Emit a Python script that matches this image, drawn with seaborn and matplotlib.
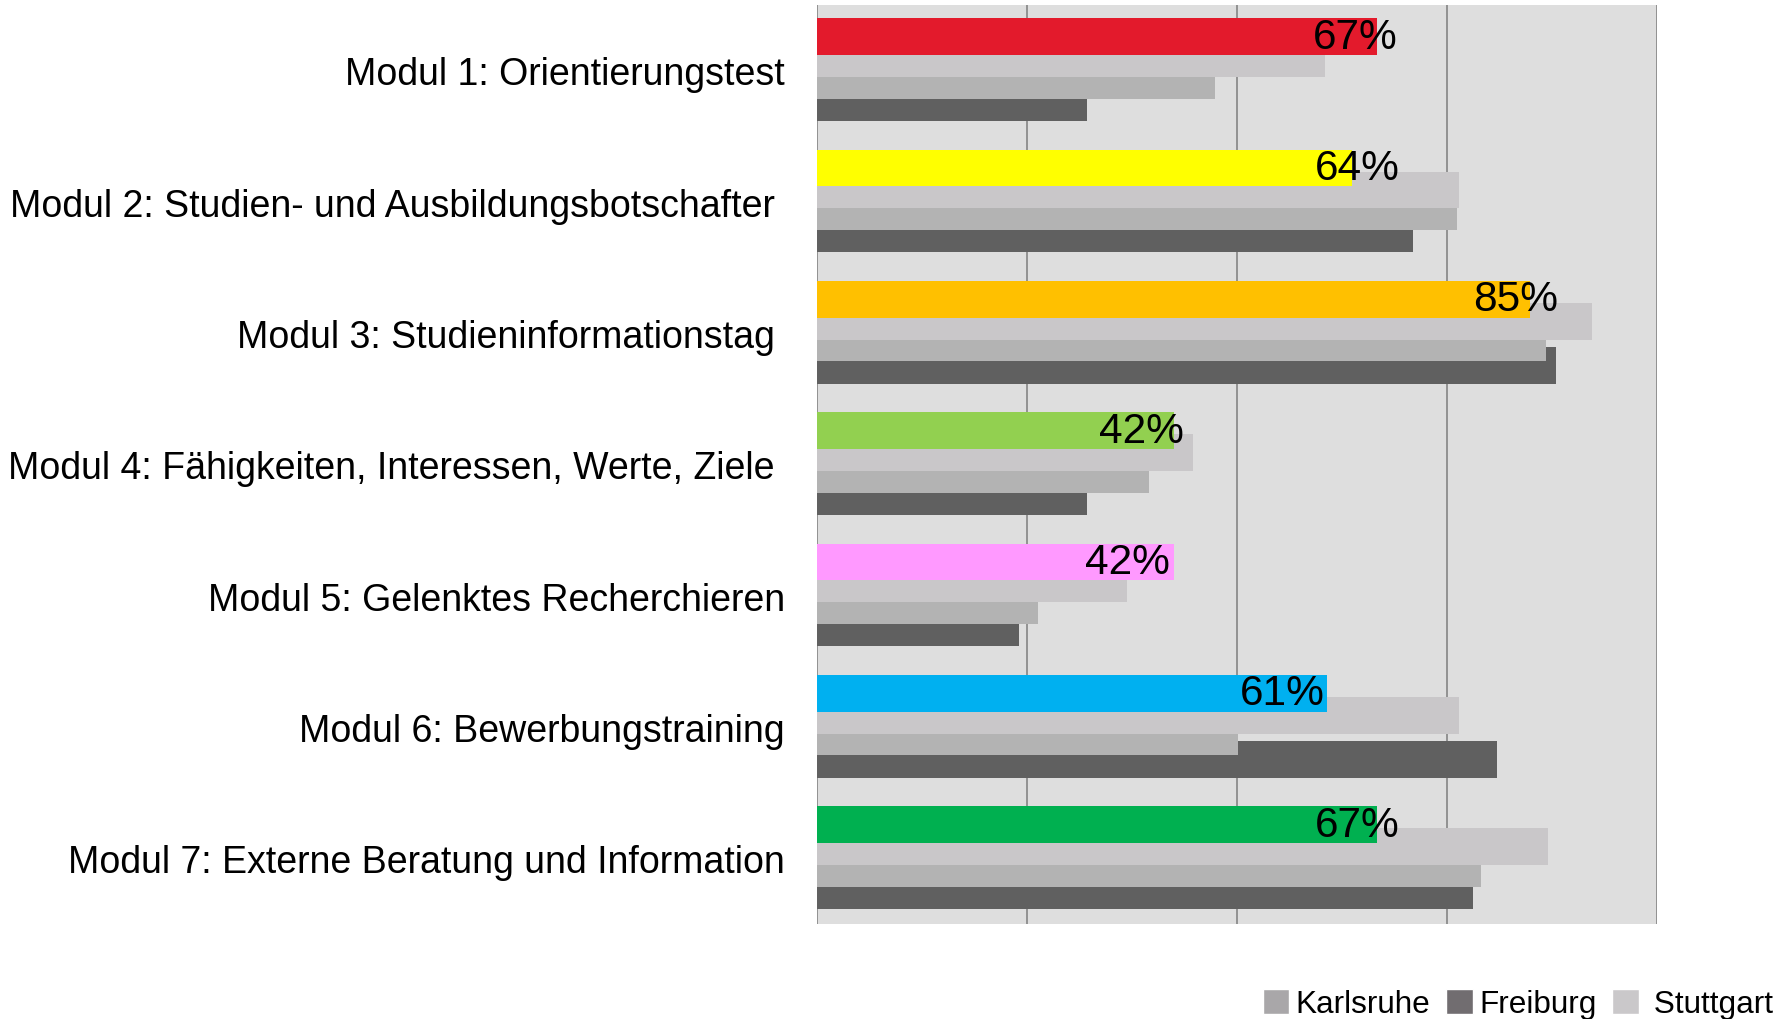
import matplotlib.pyplot as plt
import seaborn as sns
import numpy as np
from matplotlib.patches import Patch

modules = [
    "Modul 1: Orientierungstest",
    "Modul 2: Studien- und Ausbildungsbotschafter ",
    "Modul 3: Studieninformationstag ",
    "Modul 4: Fähigkeiten, Interessen, Werte, Ziele ",
    "Modul 5: Gelenktes Recherchieren",
    "Modul 6: Bewerbungstraining",
    "Modul 7: Externe Beratung und Information",
]
# gesamt (coloured bar) and the three locations, in percent
gesamt = [66.7, 63.7, 84.9, 42.5, 42.5, 60.7, 66.7]
gesamt_labels = ["67%", "64%", "85%", "42%", "42%", "61%", "67%"]
stuttgart = [60.5, 76.4, 92.2, 44.8, 36.9, 76.4, 87.0]
karlsruhe = [47.4, 76.2, 86.8, 39.5, 26.3, 50.1, 79.0]
freiburg = [32.1, 71.0, 88.0, 32.1, 24.0, 81.0, 78.1]

module_colors = ["#E31A2C", "#FFFF00", "#FFC000", "#92D050", "#FF99FF", "#00B0F0", "#00B050"]
c_stuttgart, c_karlsruhe, c_freiburg = "#C9C7C9", "#B3B3B3", "#606060"

# small horizontal nudges of the value labels (as in the original)
label_nudge = [2.4, 5.7, 3.3, 1.2, -0.5, -0.3, 2.7]

sns.set_theme(style="white")
plt.rcParams["font.family"] = ["Liberation Sans", "DejaVu Sans"]
plt.rcParams["text.color"] = "black"
plt.rcParams["ytick.color"] = "black"

fig = plt.figure(figsize=(17.86, 10.2), dpi=100)
ax = fig.add_axes([0.4574, 0.0931, 0.4704, 0.9013])
ax.set_facecolor("#DEDEDE")

idx = np.arange(len(modules))
bar_h = 0.28
# draw back to front: Freiburg, Karlsruhe, Stuttgart, coloured total
for vals, col, off in [(freiburg, c_freiburg, 0.246),
                       (karlsruhe, c_karlsruhe, 0.075),
                       (stuttgart, c_stuttgart, -0.089)]:
    sns.barplot(x=vals, y=idx + off, orient="h", native_scale=True,
                width=bar_h, color=col, errorbar=None, linewidth=0,
                saturation=1, ax=ax)

sns.barplot(x=gesamt, y=idx - 0.256, hue=modules, palette=module_colors,
            orient="h", native_scale=True, width=bar_h, dodge=False,
            errorbar=None, linewidth=0, saturation=1, legend=False, ax=ax)

for i, (v, lab) in enumerate(zip(gesamt, gesamt_labels)):
    ax.text(v + label_nudge[i], i - 0.256, lab, ha="right", va="center",
            fontsize=30.5, color="black")

ax.set_xlim(0, 100)
ax.set_ylim(6.5, -0.5)
ax.set_xticks([0, 25, 50, 75, 100])
ax.set_xticklabels([])
ax.set_yticks(idx)
ax.set_yticklabels(modules, fontsize=27, color="black")
ax.tick_params(axis="y", length=0, pad=23)
ax.tick_params(axis="x", length=0)
ax.grid(axis="x", color="#8C8C8C", linewidth=1.3)
ax.grid(axis="y", visible=False)
ax.set_axisbelow(True)
ax.set_xlabel("")
ax.set_ylabel("")
for s in ax.spines.values():
    s.set_visible(False)

handles = [Patch(facecolor="#A9A7A9", label="Karlsruhe"),
           Patch(facecolor="#716D70", label="Freiburg"),
           Patch(facecolor="#CAC8CA", label=" Stuttgart")]
fig.legend(handles=handles, loc="center right", bbox_to_anchor=(0.993, 0.0147),
           ncol=3, frameon=False, fontsize=22.7, handlelength=0.85,
           handleheight=0.85, handletextpad=0.2, columnspacing=0.5,
           borderaxespad=0, borderpad=0, labelcolor="black")

fig.savefig("out.png", dpi=100)
